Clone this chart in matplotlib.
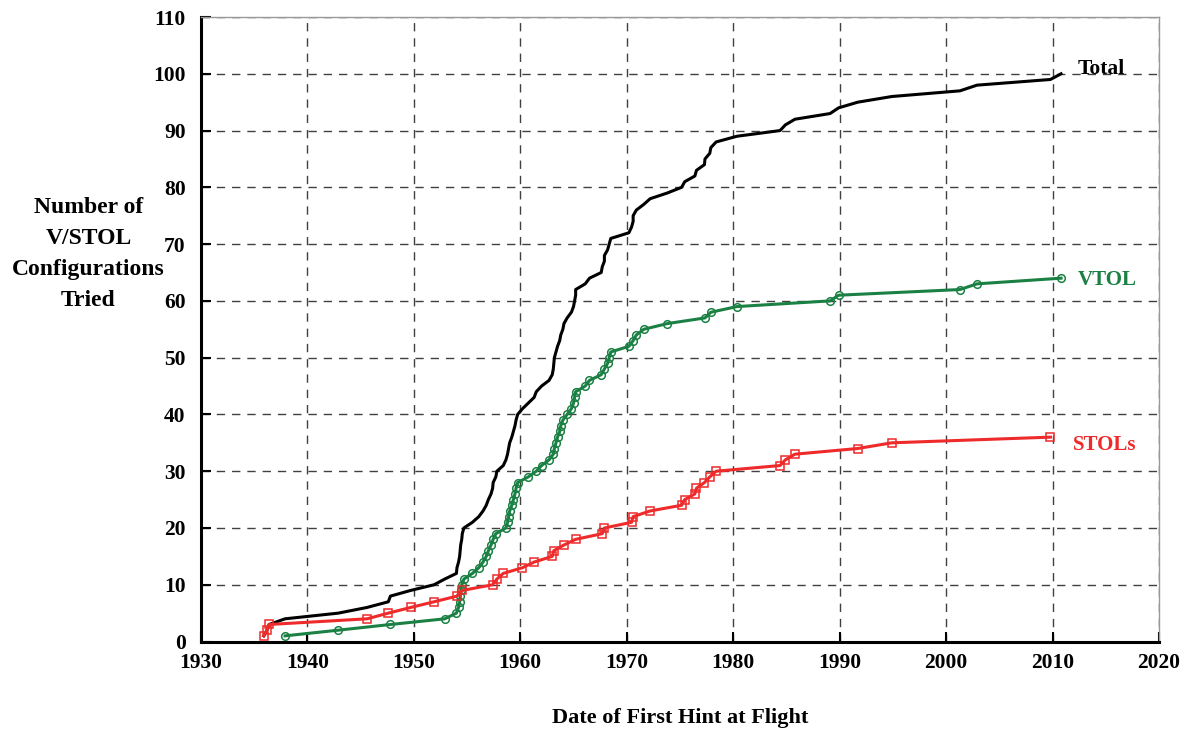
"""Cumulative count of V/STOL configurations tried, by date of first hint at flight."""

import matplotlib.pyplot as plt
import numpy as np

# Date (decimal year) at which each successive VTOL configuration appeared
vtol_dates = [
    1937.9, 1942.9, 1947.8, 1952.9, 1954.0, 1954.2, 1954.3, 1954.35, 1954.4, 1954.5,
    1954.7, 1955.5, 1956.1, 1956.5, 1956.8, 1957.0, 1957.25, 1957.45, 1957.7, 1958.65,
    1958.8, 1958.9, 1959.0, 1959.2, 1959.35, 1959.5, 1959.6, 1959.75, 1960.75, 1961.5,
    1962.0, 1962.7, 1963.1, 1963.2, 1963.35, 1963.5, 1963.7, 1963.8, 1964.0, 1964.4,
    1964.8, 1965.0, 1965.1, 1965.2, 1966.1, 1966.5, 1967.6, 1967.9, 1968.2, 1968.35,
    1968.5, 1970.2, 1970.6, 1970.9, 1971.6, 1973.8, 1977.35, 1977.9, 1980.35, 1989.1,
    1989.9, 2001.3, 2002.9, 2010.8,
]

# Same for STOL configurations
stol_dates = [
    1935.9, 1936.2, 1936.4, 1945.6, 1947.6, 1949.7, 1951.9, 1954.05, 1954.55, 1957.4,
    1957.8, 1958.4, 1960.2, 1961.3, 1963.0, 1963.15, 1964.1, 1965.2, 1967.7, 1967.9,
    1970.45, 1970.6, 1972.2, 1975.15, 1975.45, 1976.4, 1976.55, 1977.3, 1977.8, 1978.4,
    1984.4, 1984.9, 1985.8, 1991.7, 1994.9, 2009.8,
]

# Total is every configuration of either kind, in date order
total_dates = sorted(vtol_dates + stol_dates)

vtol_count = np.arange(1, len(vtol_dates) + 1)
stol_count = np.arange(1, len(stol_dates) + 1)
total_count = np.arange(1, len(total_dates) + 1)

GREEN = "#1b8044"
RED = "#ee2a2a"
SERIF = ["Liberation Serif", "DejaVu Serif"]

plt.rcParams["font.family"] = SERIF
plt.rcParams["font.weight"] = "bold"

fig = plt.figure(figsize=(11.87, 7.31), dpi=100)
ax = fig.add_axes([0.1693, 0.1224, 0.8071, 0.8543])

ax.plot(total_dates, total_count, color="black", lw=2.2, zorder=3)
ax.plot(vtol_dates, vtol_count, color=GREEN, lw=2.2, marker="o", ms=5.5,
        mfc="none", mec=GREEN, mew=1.1, zorder=4)
ax.plot(stol_dates, stol_count, color=RED, lw=2.2, marker="s", ms=5.5,
        mfc="none", mec=RED, mew=1.1, zorder=4)

ax.text(2012.4, 100.9, "Total", color="black", fontsize=15.5, fontweight="bold",
        va="center", ha="left")
ax.text(2012.4, 63.6, "VTOL", color=GREEN, fontsize=15, fontweight="bold",
        va="center", ha="left")
ax.text(2011.9, 34.6, "STOLs", color=RED, fontsize=15, fontweight="bold",
        va="center", ha="left")

ax.set_xlim(1930, 2020)
ax.set_ylim(0, 110)
ax.set_xticks(np.arange(1930, 2021, 10))
ax.set_yticks(np.arange(0, 111, 10))
ax.tick_params(direction="in", length=7, width=1.5, labelsize=15.5)
ax.tick_params(axis="x", pad=8)
ax.tick_params(axis="y", pad=11)
for lab in ax.get_xticklabels() + ax.get_yticklabels():
    lab.set_fontweight("bold")

ax.grid(True, color="#404040", lw=1.0, linestyle=(0, (6, 5)))
ax.set_axisbelow(True)

ax.spines["left"].set_linewidth(2.2)
ax.spines["bottom"].set_linewidth(2.2)
for side in ("top", "right"):
    ax.spines[side].set_color("#999999")
    ax.spines[side].set_linewidth(1.0)

fig.text(0.0745, 0.653, "Number of\nV/STOL\nConfigurations\nTried", ha="center",
         va="center", fontsize=17, fontweight="bold", linespacing=1.62)
fig.text(0.5728, 0.018, "Date of First Hint at Flight", ha="center", va="center",
         fontsize=16, fontweight="bold")

fig.savefig("out.png", dpi=100)
